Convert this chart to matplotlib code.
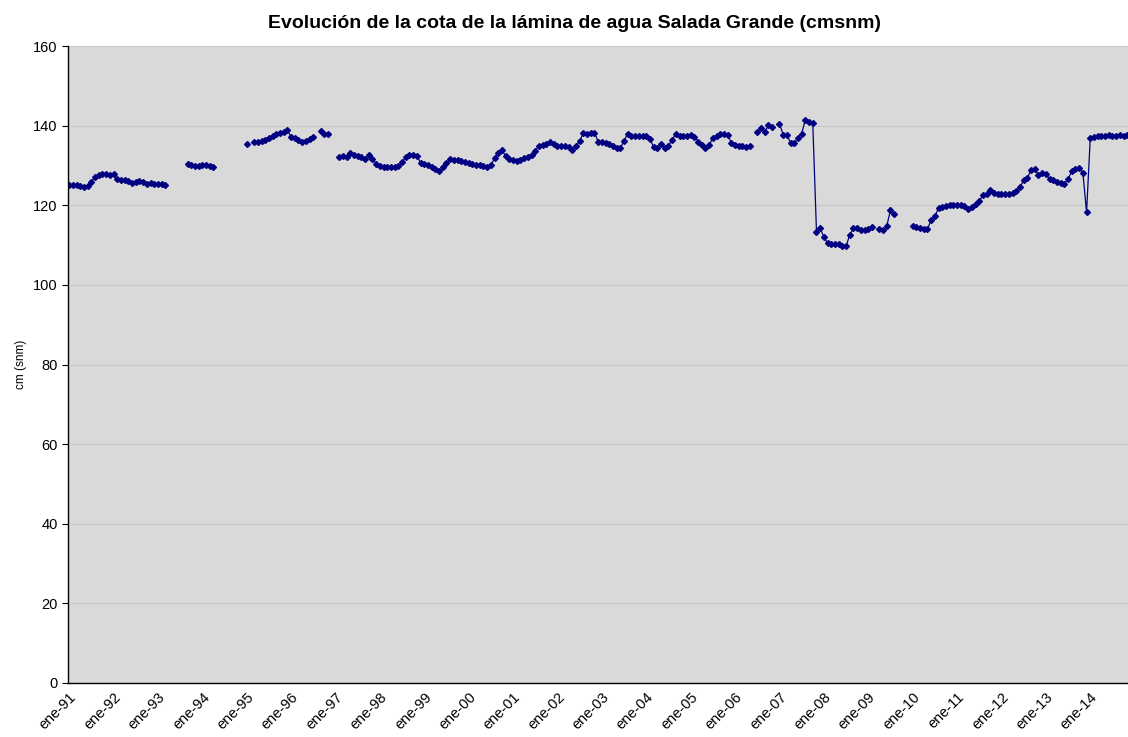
import numpy as np
import matplotlib
matplotlib.use('Agg')
import matplotlib.pyplot as plt

plt.rcParams['font.family'] = ['Liberation Sans', 'DejaVu Sans']

nan = np.nan

# Monthly level (cm snm) from Jan 1991, one row per year; nan = no reading
cota = [
    125.2, 125.0, 125.0, 124.8, 124.6, 124.8, 125.8, 127.0, 127.6, 127.8, 127.8, 127.7,  # 1991
    127.8, 126.6, 126.4, 126.3, 126.2, 125.7, 125.8, 126.0, 125.8, 125.4, 125.5, 125.3,  # 1992
    125.4, 125.3, 125.1, nan, nan, nan, nan, nan, 130.3, 130.0, 129.9, 129.8,  # 1993
    130.0, 130.1, 129.9, 129.5, nan, nan, nan, nan, nan, nan, nan, nan,  # 1994
    135.4, nan, 135.8, 135.9, 136.2, 136.5, 136.9, 137.4, 138.0, 138.2, 138.4, 138.9,  # 1995
    137.1, 136.8, 136.4, 135.9, 136.2, 136.6, 137.2, nan, 138.7, 138.0, 137.8, nan,  # 1996
    nan, 132.2, 132.3, 132.0, 133.2, 132.7, 132.3, 132.2, 131.7, 132.5, 131.6, 130.4,  # 1997
    129.8, 129.6, 129.7, 129.6, 129.5, 129.8, 130.8, 132.0, 132.5, 132.6, 132.4, 130.7,  # 1998
    130.3, 130.0, 129.7, 129.1, 128.5, 129.5, 130.5, 131.6, 131.4, 131.3, 131.2, 130.9,  # 1999
    130.6, 130.3, 130.1, 130.1, 129.9, 129.5, 130.1, 131.8, 133.1, 133.9, 132.3, 131.7,  # 2000
    131.4, 131.2, 131.3, 131.8, 132.2, 132.6, 133.6, 135.0, 135.2, 135.5, 135.8, 135.5,  # 2001
    135.0, 134.8, 134.8, 134.7, 133.9, 134.8, 136.2, 138.1, 137.9, 138.1, 138.2, 136.0,  # 2002
    135.8, 135.6, 135.5, 135.0, 134.4, 134.4, 136.2, 138.0, 137.4, 137.3, 137.4, 137.5,  # 2003
    137.3, 136.6, 134.6, 134.4, 135.3, 134.4, 134.9, 136.5, 137.9, 137.5, 137.4, 137.4,  # 2004
    137.6, 137.2, 136.0, 135.2, 134.4, 135.1, 136.9, 137.3, 138.0, 137.9, 137.6, 135.7,  # 2005
    135.2, 135.0, 134.9, 134.6, 134.9, nan, 138.3, 139.4, 138.3, 140.2, 139.6, nan,  # 2006
    140.5, 137.7, 137.7, 135.6, 135.6, 136.9, 138.0, 141.5, 140.8, 140.6, 113.4, 114.2,  # 2007
    112.0, 110.5, 110.3, 110.3, 110.2, 109.8, 109.7, 112.6, 114.2, 114.2, 113.8, 113.8,  # 2008
    114.0, 114.5, nan, 114.0, 113.7, 114.8, 118.8, 117.9, nan, nan, nan, nan,  # 2009
    114.9, 114.6, 114.2, 114.0, 114.0, 116.3, 117.2, 119.3, 119.6, 119.9, 120.0, 120.0,  # 2010
    120.0, 120.0, 119.9, 119.0, 119.6, 120.3, 121.0, 122.6, 122.9, 123.9, 123.0, 122.9,  # 2011
    122.9, 122.9, 122.9, 123.0, 123.5, 124.5, 126.4, 126.8, 128.9, 129.1, 127.6, 128.1,  # 2012
    127.9, 126.6, 126.4, 125.9, 125.5, 125.4, 126.6, 128.5, 129.1, 129.3, 128.2, 118.2,  # 2013
    136.9, 137.1, 137.3, 137.3, 137.5, 137.6, 137.5, 137.5, 137.6, 137.5, 137.6,  # 2014
]

tick_labels = ['ene-91', 'ene-92', 'ene-93', 'ene-94', 'ene-95', 'ene-96', 'ene-97',
               'ene-98', 'ene-99', 'ene-00', 'ene-01', 'ene-02', 'ene-03', 'ene-04',
               'ene-05', 'ene-06', 'ene-07', 'ene-08', 'ene-09', 'ene-10', 'ene-11',
               'ene-12', 'ene-13', 'ene-14']

title = 'Evolución de la cota de la lámina de agua Salada Grande (cmsnm)'

months = np.arange(len(cota))

fig = plt.figure(figsize=(11.28, 7.37), dpi=100)
ax = fig.add_axes([68 / 1128, 1 - 683 / 737, 1 - 68 / 1128, (683 - 46) / 737])
ax.set_facecolor('#d9d9d9')

ax.plot(months, cota, color='#000080', linewidth=0.9, marker='D', markersize=3.0,
        markerfacecolor='#000080', markeredgecolor='#000080')

ax.set_ylim(0, 160)
ax.set_yticks(range(0, 161, 20))
ax.set_xlim(-0.3, 286.2)
ax.set_xticks(np.arange(0, len(tick_labels) * 12, 12))
ax.set_xticklabels(tick_labels, rotation=45, ha='right', rotation_mode='anchor')

ax.grid(axis='y', color='#c8c8c8', linewidth=0.8)
ax.set_axisbelow(True)
for side in ['top', 'right']:
    ax.spines[side].set_visible(False)
ax.spines['left'].set_linewidth(1.0)
ax.spines['bottom'].set_linewidth(1.0)
ax.tick_params(axis='both', labelsize=10.5, color='black', length=4)
ax.tick_params(axis='x', length=0, pad=5)

ax.set_ylabel('cm (snm)', fontsize=8.5)
ax.set_title(title, fontsize=14, fontweight='bold', pad=13, x=0.478)

fig.savefig('out.png', dpi=100)
